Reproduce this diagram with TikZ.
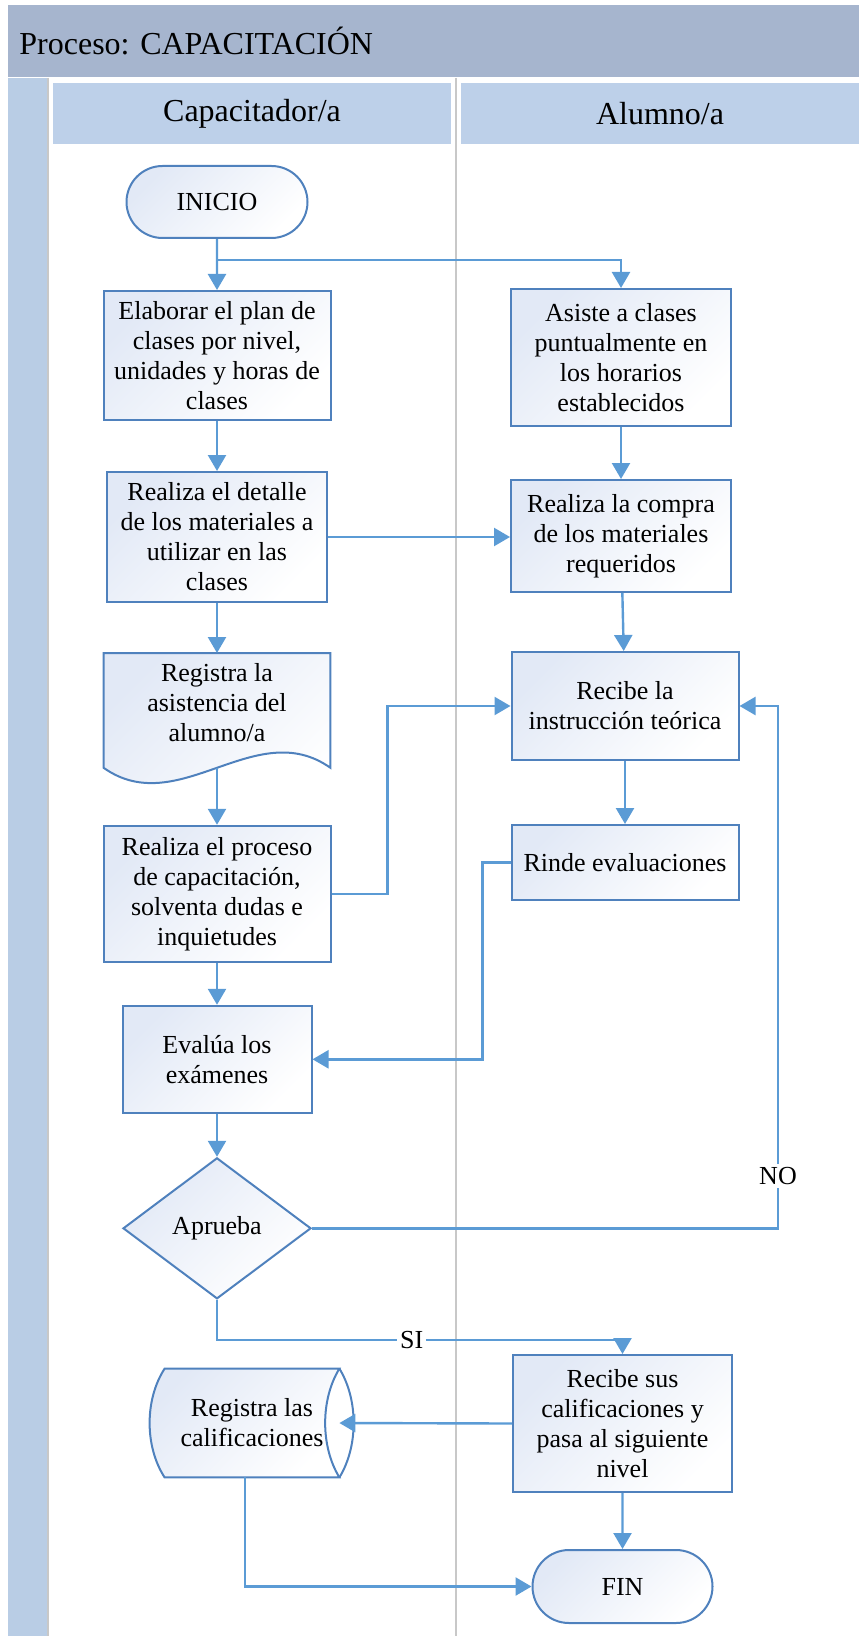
\documentclass[tikz,border=0pt]{standalone}
\usepackage{fontspec}
\setmainfont{Liberation Serif}
\usetikzlibrary{positioning, arrows.meta, shapes.geometric, shapes.misc, backgrounds}

\definecolor{titleblue}{RGB}{166,181,206}
\definecolor{stripblue}{RGB}{185,205,229}
\definecolor{headblue}{RGB}{189,208,233}
\definecolor{lanegray}{RGB}{200,200,200}
\definecolor{nodeblue}{RGB}{79,129,189}
\definecolor{lineblue}{RGB}{91,155,213}
\definecolor{nodefill}{RGB}{226,233,246}

\newcommand{\boxfont}{\fontsize{13}{15}\selectfont}
\newcommand{\headfont}{\fontsize{16}{19}\selectfont}

\begin{document}
\begin{tikzpicture}[x=0.5pt, y=-0.5pt, >={Triangle[width=9pt,length=8pt]},
    box/.style={draw=nodeblue, line width=1pt, top color=nodefill, bottom color=white,
                shading angle=45, minimum width=113.5pt, align=center, inner sep=2pt, font=\boxfont},
    term/.style={box, rounded rectangle, minimum width=94.5pt, minimum height=36pt},
    decision/.style={box, diamond, aspect=1.33, minimum width=94pt, minimum height=70.5pt, inner sep=0pt},
    textonly/.style={align=center, inner sep=2pt, font=\boxfont},
    outline/.style={draw=nodeblue, line width=1pt, top color=nodefill, bottom color=white, shading angle=45},
    conn/.style={->, draw=lineblue, line width=1.2pt},
    lanehead/.style={fill=headblue, minimum width=199pt, minimum height=30.5pt, font=\headfont}]
    \useasboundingbox (0,0) rectangle (859,1636);

    % pool and lanes
    \fill[titleblue] (8,5) rectangle (859,77);
    \fill[stripblue] (8,78) rectangle (47,1636);
    \draw[lanegray, line width=1pt] (48,78) -- (48,1636);
    \draw[lanegray, line width=1pt] (456,78) -- (456,1636);
    \node[anchor=west, inner sep=0pt, font=\headfont] (titulo) at (19,41) {Proceso: CAPACITACIÓN};
    \node[lanehead] (capacitador) at (252,113.5) {Capacitador/a};
    \node[lanehead] (alumno) at (660,113.5) {Alumno/a};

    % Capacitador/a
    \node[term] (inicio) at (217,202) {INICIO};
    \node[box, minimum height=64.5pt, below=25.5pt of inicio] (elaborar) {Elaborar el plan de\\clases por nivel,\\unidades y horas de\\clases};
    \node[box, minimum width=110pt, minimum height=65pt, below=25pt of elaborar] (detalle) {Realiza el detalle\\de los materiales a\\utilizar en las\\clases};
    \node[textonly, minimum width=113pt, minimum height=49pt, below=25pt of detalle] (asistencia) {Registra la\\asistencia del\\alumno/a};
    \node[box, minimum height=68pt, below=36.5pt of asistencia] (capacita) {Realiza el proceso\\de capacitación,\\solventa dudas e\\inquietudes};
    \node[box, minimum width=94.5pt, minimum height=53.5pt, below=21pt of capacita] (evalua) {Evalúa los\\exámenes};
    \node[decision, below=21.5pt of evalua] (aprueba) {Aprueba};
    \node[textonly, minimum width=87pt, minimum height=54pt] (califica) at (252,1423) {Registra las\\calificaciones};

    % Alumno/a
    \node[box, minimum width=110pt, minimum height=68.5pt] (asiste) at (621,357.5) {Asiste a clases\\puntualmente en\\los horarios\\establecidos};
    \node[box, minimum width=110pt, minimum height=56pt, below=26pt of asiste] (compra) {Realiza la compra\\de los materiales\\requeridos};
    \node[box, minimum height=54pt, below=29pt of compra, xshift=2pt] (instruccion) {Recibe la\\instrucción teórica};
    \node[box, minimum height=37.5pt, below=31.5pt of instruccion] (rinde) {Rinde evaluaciones};
    \node[box, minimum width=109.5pt, minimum height=68.5pt] (recibe) at (622.5,1423.5) {Recibe sus\\calificaciones y\\pasa al siguiente\\nivel};
    \node[term, minimum width=94pt, minimum height=36.5pt, below=28pt of recibe] (fin) {FIN};

    % document and stored data outlines
    \coordinate (asistR) at ([yshift=-8pt]asistencia.south east);
    \coordinate (asistL) at ([yshift=-8pt]asistencia.south west);
    \begin{scope}[on background layer]
        \draw[outline] (asistencia.north west) -- (asistencia.north east) -- (asistR)
            .. controls +(-75,-53) and +(75,53) .. (asistL) -- cycle;
        \draw[outline] (califica.north west) .. controls +(-20,31) and +(-20,-31) .. (califica.south west)
            -- (califica.south east) .. controls +(-19,-31) and +(-19,31) .. (califica.north east) -- cycle;
        \draw[draw=nodeblue, line width=1pt] (califica.north east) .. controls +(19,31) and +(19,-31) .. (califica.south east);
    \end{scope}

    % connectors
    \draw[conn] (inicio) -- (elaborar);
    \draw[conn] ([yshift=-10.5pt]inicio.south) -| (asiste.north);
    \draw[conn] (elaborar) -- (detalle);
    \draw[conn] (asiste) -- (compra);
    \draw[conn] (detalle.east) -- (detalle.east -| compra.west);
    \draw[conn] (detalle) -- (asistencia);
    \draw[conn] (compra) -- (instruccion);
    \draw[conn] ([yshift=-8pt]asistencia.south) -- (capacita);
    \draw[conn] (capacita.east) -- ++(56,0) |- (instruccion.west);
    \draw[conn] (instruccion) -- (rinde);
    \draw[conn] (rinde.west) -- ++(-28,0) |- (evalua.east);
    \draw[conn] (capacita) -- (evalua);
    \draw[conn] (evalua) -- (aprueba);
    \draw[conn] (aprueba.east) -- ++(466,0) |- node[pos=0.05, fill=white, inner sep=1.5pt, font=\boxfont] {NO} (instruccion.east);
    \draw[conn] (aprueba.south) -- ++(0,40) -| node[pos=0.24, fill=white, inner sep=1.5pt, font=\boxfont] {SI} (recibe.north);
    \draw[conn] (recibe.west) -- (califica.east);
    \draw[conn] (recibe) -- (fin);
    \draw[conn] ([xshift=-3.5pt]califica.south) |- (fin.west);
\end{tikzpicture}
\end{document}
